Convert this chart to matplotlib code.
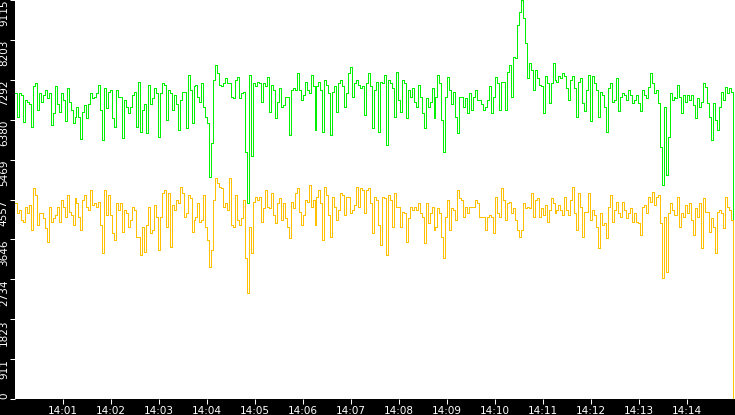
#!/usr/bin/env python3
"""Two-channel rate chart, 14:00-14:15, white plot on a black frame."""

from pathlib import Path

import matplotlib
matplotlib.use("Agg")
import matplotlib.dates as mdates
import matplotlib.pyplot as plt
import numpy as np
import pandas as pd


ROOT = Path(__file__).resolve().parent

DAY = "2024-01-01"
START = "14:00:00"
END = "14:15:00"

# values, one every ~2.5 s
GREEN_SERIES = [
    6980, 6450, 6980, 6950, 6330, 6830, 6790, 6750, 6220, 7140, 7210, 6600, 6980, 6790, 6950, 7060,
    6870, 6980, 6260, 6530, 7140, 6750, 6560, 6980, 6830, 6340, 7100, 6790, 6600, 6300, 6450, 6680,
    6450, 5950, 6560, 6720, 6410, 6750, 6980, 6870, 6910, 6980, 7170, 6600, 5920, 7100, 6640, 7020,
    7060, 6410, 6220, 7060, 6910,
    6910, 5960, 6830, 6680, 6530, 6680, 6950, 7020, 6220, 7250, 6110, 6600, 6750, 6070, 7170, 6750,
    6870, 7100, 6980, 5990, 6980, 7210, 7170, 6370, 7060, 6980, 6600, 6950, 6750, 6150, 6830, 7020,
    7020, 6180, 7400, 7060, 6300, 7140, 7170, 6910, 6790, 7210, 6680, 6450, 6300, 5080, 5840, 7290,
    7630, 7440, 7170, 7140, 7210,
    7330, 7210, 7210, 6910, 6870, 7290, 7360, 6870, 6980, 7020, 5650, 4470, 7400, 5540, 7210, 7140,
    7250, 7210, 6790, 7210, 7140, 7360, 6560, 7170, 7060, 6410, 6790, 7100, 6680, 6720, 6910, 6910,
    6030, 7060, 7100, 7060, 7440, 7060, 6830, 6950, 7250, 7060, 6980, 7400, 7140, 6150, 7140, 7250,
    7060, 6110, 7290, 7170, 6980,
    6030, 7020, 7140, 6560, 7210, 7290, 7140, 6680, 6980, 7440, 7590, 6910, 7210, 7290, 7170, 7100,
    7140, 6490, 7210, 7440, 7140, 6180, 7060, 7250, 6110, 7250, 7210, 7400, 5800, 7290, 7210, 7100,
    6450, 7480, 6830, 6560, 7290, 7210, 6410, 7060, 6910, 7100, 6790, 6680, 7170, 6910, 6530, 6180,
    6870, 6680, 6790, 7100, 6410,
    6910, 7400, 7210, 6370, 5650, 6910, 7360, 7060, 6750, 7020, 6450, 6070, 6910, 6910, 6680, 6870,
    6530, 6980, 6600, 6910, 7060, 6830, 6830, 6750, 6600, 6680, 6830, 7140, 6530, 6910, 7360, 7210,
    6600, 7250, 7250, 6600, 7480, 7630, 6910, 7820, 7780, 8540, 8850, 9115, 8700, 8130, 7330, 7670,
    7520, 7060, 7520, 7330, 7170,
    7140, 6530, 7370, 7210, 6760, 7210, 7670, 7290, 7250, 7370, 7330, 7440, 7370, 7100, 6830, 7290,
    7370, 7100, 6450, 7250, 7330, 6760, 6570, 7060, 7400, 6340, 7370, 7210, 7060, 6450, 7020, 6950,
    6680, 6110, 7100, 7210, 6790, 6830, 7330, 6570, 6910, 6980, 6950, 6830, 7060, 6950, 6760, 6830,
    6950, 6760, 6570, 7060, 6950,
    6870, 7135, 7440, 7210, 6985, 7060, 6755, 5765, 4890, 6680, 5115, 5990, 6985, 6830, 6910, 6870,
    7175, 6910, 6525, 6945, 6795, 6945, 6830, 6945, 6715, 6410, 6870, 6680, 6795, 7210, 7135, 6755,
    6450, 5915, 6755, 6375, 6145, 6680, 7020, 6830, 7135, 6985, 7100, 7020, 2190,
]

YELLOW_SERIES = [
    4470, 4240, 4320, 4090, 4050, 4395, 4240, 4430, 3860, 4810, 4660, 3975, 4240, 4240, 4125, 3900,
    3595, 4395, 4050, 4125, 4205, 4395, 4050, 4545, 4395, 4165, 4660, 4280, 4205, 3975, 4585, 4470,
    4165, 3860, 4545, 4660, 4395, 4320, 4775, 4430, 4470, 4395, 4510, 3975, 3330, 4775, 4205, 4660,
    4205, 3785, 3630, 4470, 4320,
    4470, 3820, 4320, 4240, 3935, 4090, 4395, 4320, 3710, 3710, 3290, 3935, 3365, 3975, 4395, 3785,
    3860, 4430, 4165, 3405, 4165, 4700, 4775, 3935, 4700, 3480, 4430, 4320, 4545, 4470, 4850, 4700,
    4165, 4240, 4660, 4585, 3820, 4090, 4165, 4470, 4050, 4090, 4660, 3935, 3630, 3020, 3405, 4545,
    5040, 4925, 4850, 4810, 4395,
    4470, 4320, 5040, 3975, 3935, 4660, 4090, 3975, 4125, 4545, 3215, 2415, 3935, 3330, 4510, 4620,
    4545, 4620, 4050, 4355, 4775, 4395, 4355, 4700, 4205, 4010, 4470, 4585, 4090, 4470, 4125, 3935,
    3670, 4510, 4355, 4700, 4810, 4280, 3975, 4205, 4545, 4510, 4890, 4395, 4545, 3975, 4620, 4775,
    4470, 3630, 4850, 4660, 4205,
    3710, 4620, 4395, 4090, 4320, 4700, 4660, 4205, 4620, 4620, 4240, 4320, 4430, 4850, 4395, 4810,
    4775, 4240, 4775, 4810, 4470, 3785, 4620, 4545, 3975, 3520, 4620, 4585, 3290, 4660, 4545, 3935,
    4700, 4395, 4395, 3935, 4280, 4240, 3595, 4125, 4395, 4320, 4395, 4320, 4470, 4240, 4165, 3555,
    4470, 4010, 4240, 4395, 3860,
    3935, 4355, 4240, 3710, 3215, 4165, 4545, 3860, 4355, 4320, 4090, 4775, 4585, 4545, 4165, 4395,
    4240, 4395, 4395, 4395, 4545, 4470, 4165, 4165, 4165, 3860, 4165, 4205, 4165, 3785, 4620, 4240,
    4165, 4815, 4545, 4090, 4470, 4510, 4240, 4355, 4090, 3860, 3710, 3860, 4470, 4355, 4395, 4355,
    4700, 4165, 4545, 4585, 4165,
    4355, 4205, 4430, 4050, 4320, 4585, 4470, 4240, 4320, 4430, 4320, 4205, 4620, 4320, 4205, 4545,
    4850, 4240, 3860, 4700, 4395, 3710, 4280, 4280, 4700, 4090, 4320, 4205, 3935, 3440, 4240, 3975,
    4010, 3670, 4395, 4660, 4050, 4320, 4510, 4240, 4165, 4510, 4320, 4125, 4240, 4355, 4050, 4240,
    4050, 4010, 3745, 4395, 4430,
    4240, 4620, 4510, 4735, 4430, 4620, 4660, 4015, 2755, 4165, 2910, 4240, 4470, 4320, 4205, 4205,
    4620, 3935, 4240, 4165, 4430, 4240, 4470, 4090, 3745, 4355, 4165, 4470, 3440, 4585, 4280, 4280,
    3820, 4125, 3935, 3330, 4280, 4320, 4240, 3900, 4620, 4395, 4320, 4090, 0,
]

Y_TICKS = [0, 911, 1823, 2734, 3646, 4557, 5469, 6380, 7292, 8203, 9115]
X_TICK_LABELS = ["14:01", "14:02", "14:03", "14:04", "14:05", "14:06", "14:07",
                 "14:08", "14:09", "14:10", "14:11", "14:12", "14:13", "14:14"]

GREEN = "#00f000"
YELLOW = "#ffc000"


def _stamp(hhmm: str) -> float:
    return mdates.date2num(pd.Timestamp(f"{DAY} {hhmm}").to_pydatetime())


def main() -> None:
    n = len(GREEN_SERIES)
    x0, x1 = _stamp(START), _stamp(END)
    # evenly spaced samples over the 15 minute window
    xs = x0 + np.arange(n) * (x1 - x0) / n

    fig = plt.figure(figsize=(7.35, 4.15), dpi=100, facecolor="black")
    ax = fig.add_axes([15 / 735, 16 / 415, 720 / 735, 399 / 415])
    ax.set_facecolor("white")

    ax.plot(xs, GREEN_SERIES, color=GREEN, lw=0.5, drawstyle="steps-post",
            antialiased=False)
    ax.plot(xs, YELLOW_SERIES, color=YELLOW, lw=0.5, drawstyle="steps-post",
            antialiased=False)

    ax.set_xlim(x0, x1)
    ax.set_ylim(Y_TICKS[0], Y_TICKS[-1])

    for side in ax.spines.values():
        side.set_visible(False)

    ax.set_xticks([_stamp(lbl) for lbl in X_TICK_LABELS])
    ax.set_xticklabels(X_TICK_LABELS)
    ax.set_yticks(Y_TICKS)
    ax.set_yticklabels([str(v) for v in Y_TICKS], rotation=90, ha="right", va="top")
    # the bottom label sits above its tick
    ax.get_yticklabels()[0].set_va("bottom")

    ax.tick_params(axis="both", colors="white", direction="out", length=3.6,
                   width=0.75, labelsize=7.5)
    ax.tick_params(axis="x", pad=1.5)
    ax.tick_params(axis="y", pad=0.8)

    fig.savefig(ROOT / "out.png", dpi=100, facecolor="black")
    plt.close(fig)


if __name__ == "__main__":
    main()
